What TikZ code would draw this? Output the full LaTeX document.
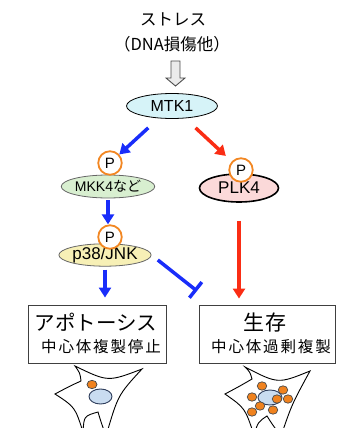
\documentclass[tikz,border=0pt]{standalone}
\usepackage{fontspec}
\setmainfont{Liberation Sans}
\newfontfamily\jp{Noto Sans CJK JP}
\usetikzlibrary{shapes.geometric,arrows.meta}

\definecolor{pathblue}{RGB}{25,45,250}
\definecolor{pathred}{RGB}{250,45,20}
\definecolor{phos}{RGB}{242,135,35}
\definecolor{mtkfill}{RGB}{214,243,248}
\definecolor{mkkfill}{RGB}{216,239,208}
\definecolor{plkfill}{RGB}{251,217,217}
\definecolor{jnkfill}{RGB}{247,240,182}
\definecolor{nucfill}{RGB}{201,220,240}
\definecolor{nucline}{RGB}{45,60,90}
\definecolor{centfill}{RGB}{240,130,30}

\tikzset{
  kinase/.style={ellipse, draw, inner sep=0pt, line width=0.8pt},
  phospho/.style={circle, draw=phos, line width=1.8pt, fill=white,
                  minimum size=23.5pt, inner sep=0pt, font=\fontsize{15}{15}\selectfont},
  outcome/.style={rectangle, draw=black!75, line width=0.9pt, minimum height=58pt},
  actarrow/.style={line width=3.5pt, -{Triangle[length=10pt,width=12pt]}},
  blockarrow/.style={line width=3.5pt, -{Bar[width=20pt]}},
  hollow/.style={draw=black!70, fill=black!8, line width=0.9pt},
  cell/.style={draw, line width=0.9pt, fill=white},
  nucleus/.style={draw=nucline, fill=nucfill, line width=0.9pt},
  centrosome/.style={draw=black!70, fill=centfill, line width=0.7pt}
}

\begin{document}
\begin{tikzpicture}[x=1pt, y=-1pt]
\useasboundingbox (0,0) rectangle (345,428);

% stress input
\node (stress) at (173,19) {\jp\fontsize{16.5}{16.5}\selectfont ストレス};
\node (dna) at (172,44.5) {\jp\fontsize{16.5}{16.5}\selectfont （DNA損傷他）};
\coordinate (stressarrow) at (175.5,61);
\draw[hollow] (stressarrow) ++(-4.5,0) -- ++(9,0) -- ++(0,17) -- ++(5,0)
  -- ++(-9.5,8) -- ++(-9.5,-8) -- ++(5,0) -- cycle;

% kinases
\node[kinase, fill=mtkfill, minimum width=91pt, minimum height=25pt,
      font=\fontsize{16}{16}\selectfont] (mtk) at (172,106) {MTK1};

\node[kinase, draw=black!60, fill=mkkfill, minimum width=80pt, minimum height=23pt,
      font=\fontsize{14}{14}\selectfont] (mkk) at (108,186.5) {MKK4{\jp など}};
\node[phospho] (pmkk) at (110,163) {P};

\node[kinase, line width=1.6pt, fill=plkfill, minimum width=79pt, minimum height=28pt,
      font=\fontsize{17}{17}\selectfont] (plk) at (239,188) {\raisebox{-3pt}{PLK4}};
\node[phospho] (pplk) at (241,170) {P};

\node[kinase, draw=black!60, fill=jnkfill, minimum width=84pt, minimum height=21pt,
      font=\fontsize{17}{17}\selectfont] (p38) at (105,255) {p38/JNK};
\node[phospho] (pp38) at (110,237) {P};

% outcomes
\node[outcome, minimum width=138pt] (apop) at (97,334) {};
\node (apoptitle) at (96,322) {\jp\fontsize{20.5}{20.5}\selectfont アポトーシス};
\node (apopnote) at (101,347)
  {\jp\fontsize{15.5}{15.5}\selectfont\addfontfeature{LetterSpace=12}中心体複製停止};

\node[outcome, minimum width=136pt] (surv) at (267,334) {};
\node (survtitle) at (265,323)
  {\jp\fontsize{21}{21}\selectfont\addfontfeature{LetterSpace=8}生存};
\node (survnote) at (271,347)
  {\jp\fontsize{15.5}{15.5}\selectfont\addfontfeature{LetterSpace=12}中心体過剰複製};

% signalling
\coordinate (inh) at (197,291);
\draw[actarrow, pathblue, shorten <=14pt] (mtk) -- (pmkk);
\draw[actarrow, pathred, shorten <=14pt, shorten >=8pt] (mtk) -- (pplk);
\draw[actarrow, pathblue, shorten <=2pt] (mkk.south) -- (mkk.south |- pp38.north);
\draw[actarrow, pathblue, shorten <=3pt, shorten >=7pt] (p38.south) -- (p38.south |- apop.north);
\draw[blockarrow, pathblue, shorten <=8pt] (p38.east) -- (inh);
\draw[actarrow, pathred, shorten <=18pt, shorten >=6pt] (plk.south) -- (plk.south |- surv.north);

% arrested cell
\draw[cell] (75,366) .. controls (108,382) .. (142,369) .. controls (118,395) .. (106,436)
  .. controls (101,422) .. (98,412) .. controls (84,416) .. (83,432)
  .. controls (75,407) .. (55,394) .. controls (70,386) .. (81,381)
  .. controls (80,373) .. (75,366) -- cycle;
\draw[nucleus] (100.5,396.5) ellipse [x radius=11.5, y radius=7.5];
\draw[centrosome] (92,384.5) ellipse [x radius=5, y radius=4.2];

% amplified cell
\draw[cell] (245,367) .. controls (278,384) .. (310,371) .. controls (292,404) .. (281,436)
  .. controls (272,424) .. (267,416) .. controls (258,422) .. (254,435)
  .. controls (245,408) .. (225,394) .. controls (240,386) .. (252,379)
  .. controls (250,372) .. (245,367) -- cycle;
\draw[nucleus] (270,397.5) ellipse [x radius=12, y radius=7.5];
\foreach \cx/\cy in {262/386, 283/390, 252/397, 277/399, 288/399, 260/406, 252/412, 273/410}
  \draw[centrosome] (\cx,\cy) ellipse [x radius=4.8, y radius=4.2];
\end{tikzpicture}
\end{document}
